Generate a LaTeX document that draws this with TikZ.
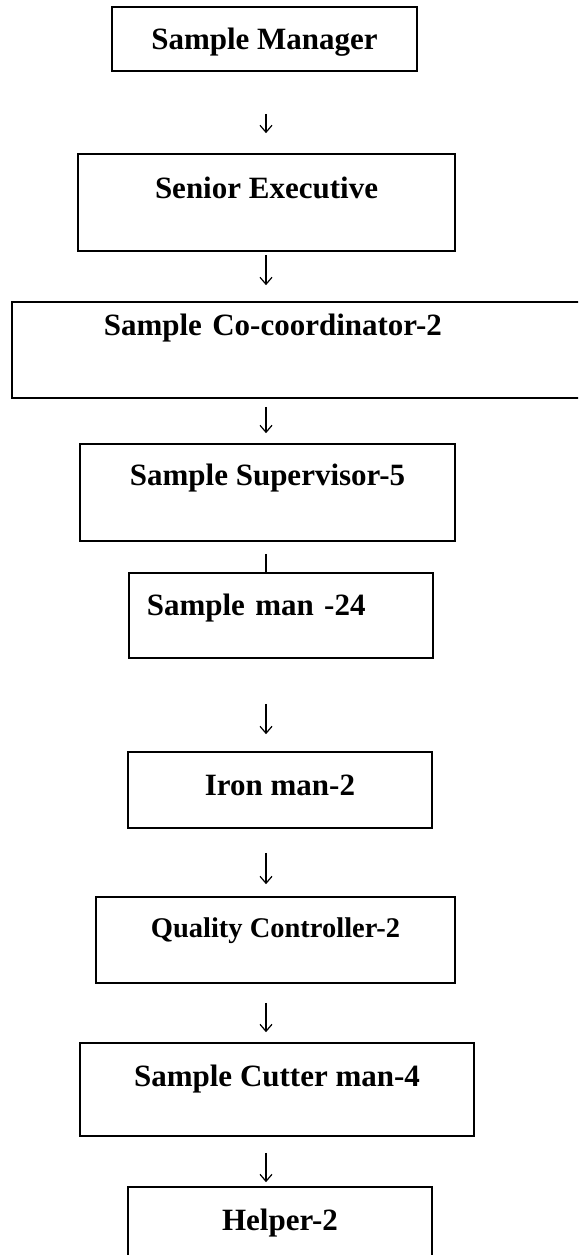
\documentclass[tikz,border=0pt]{standalone}
\usepackage{fontspec}
\setmainfont{Liberation Serif}
\usetikzlibrary{arrows.meta,positioning,calc}
\tikzset{post/.style={draw=black,line width=1.6pt,anchor=base,inner xsep=0pt,inner ysep=0pt,font=\fontsize{31}{36}\selectfont\bfseries}, flow/.style={-{Straight Barb[length=7pt,width=12pt]},line width=1.2pt}, tie/.style={line width=1.2pt}}

\begin{document}
\begin{tikzpicture}[x=1pt,y=-1pt]
\useasboundingbox (0,0) rectangle (578,1255);
\clip (0,0) rectangle (578,1255);
\coordinate (spine) at (266,0);
\node[post,minimum width=305pt,text height=43pt,text depth=21pt] (mgr) at (264.5,50) {Sample Manager};
\node[post,minimum width=377pt,text height=44pt,text depth=53pt] (exec) at (266.5,198) {Senior Executive};
\node[post,anchor=base west,inner xsep=92pt,text width=395pt,align=left,text height=33pt,text depth=63pt] (coord) at (11,335) {Sample Co-coordinator-2};
\node[post,minimum width=375pt,text height=41pt,text depth=56pt] (sup) at (267.5,485) {Sample Supervisor-5};
\node[post,anchor=base west,inner xsep=18pt,text width=268pt,align=left,text height=42pt,text depth=43pt] (sman) at (128,615) {Sample man -24};
\node[post,minimum width=304pt,text height=43pt,text depth=33pt] (iron) at (280,795) {Iron man-2};
\node[post,minimum width=359pt,text height=40pt,text depth=46pt,font=\fontsize{28.5}{34}\selectfont\bfseries] (qc) at (275.5,937) {Quality Controller-2};
\node[post,minimum width=394pt,text height=43pt,text depth=50pt] (cut) at (277,1086) {Sample Cutter man-4};
\node[post,minimum width=304pt,text height=43pt,text depth=60pt] (help) at (280,1230) {Helper-2};
\draw[flow,shorten <=42pt,shorten >=20pt] (mgr.south -| spine) -- (exec.north -| spine);
\draw[flow,shorten <=3pt,shorten >=16pt] (exec.south -| spine) -- (coord.north -| spine);
\draw[flow,shorten <=8pt,shorten >=10pt] (coord.south -| spine) -- (sup.north -| spine);
\draw[tie,shorten <=12pt] (sup.south -| spine) -- (sman.north -| spine);
\draw[flow,shorten <=45pt,shorten >=17pt] (sman.south -| spine) -- (iron.north -| spine);
\draw[flow,shorten <=24pt,shorten >=12pt] (iron.south -| spine) -- (qc.north -| spine);
\draw[flow,shorten <=19pt,shorten >=10pt] (qc.south -| spine) -- (cut.north -| spine);
\draw[flow,shorten <=16pt,shorten >=4pt] (cut.south -| spine) -- (help.north -| spine);
\end{tikzpicture}
\end{document}
